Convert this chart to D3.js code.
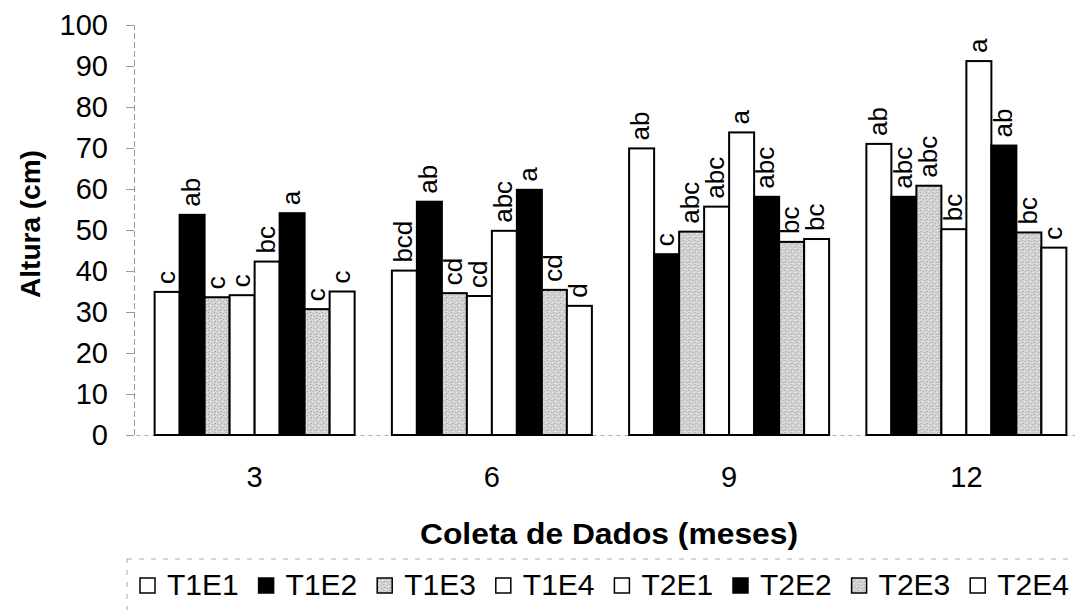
<!DOCTYPE html>
<html lang="pt">
<head>
<meta charset="UTF-8">
<script src="https://d3js.org/d3.v7.min.js"></script>
<style>
  body { margin: 0; background: #fff; }
  svg text { font-family: "Liberation Sans", Arial, sans-serif; fill: #000; }
</style>
</head>
<body>
<div id="grafico"></div>
<script>
// dados
const meses = ["3", "6", "9", "12"];
const tratamentos = ["T1E1", "T1E2", "T1E3", "T1E4", "T2E1", "T2E2", "T2E3", "T2E4"];
const T1E1 = [34.9, 40.1, 69.9, 71.0];
const T1E2 = [53.7, 56.9, 44.1, 58.1];
const T1E3 = [33.6, 34.6, 49.6, 60.8];
const T1E4 = [34.1, 33.9, 55.7, 50.2];
const T2E1 = [42.3, 49.8, 73.8, 91.2];
const T2E2 = [54.1, 59.8, 58.1, 70.6];
const T2E3 = [30.7, 35.4, 47.1, 49.4];
const T2E4 = [35.0, 31.5, 47.8, 45.7];
const letrasT1E1 = ["c", "bcd", "ab", "ab"];
const letrasT1E2 = ["ab", "ab", "c", "abc"];
const letrasT1E3 = ["c", "cd", "abc", "abc"];
const letrasT1E4 = ["c", "cd", "abc", "bc"];
const letrasT2E1 = ["bc", "abc", "a", "a"];
const letrasT2E2 = ["a", "a", "abc", "ab"];
const letrasT2E3 = ["c", "cd", "bc", "bc"];
const letrasT2E4 = ["c", "d", "bc", "c"];
const yTicks = [0, 10, 20, 30, 40, 50, 60, 70, 80, 90, 100];

const valores = [T1E1, T1E2, T1E3, T1E4, T2E1, T2E2, T2E3, T2E4];
const letras = [letrasT1E1, letrasT1E2, letrasT1E3, letrasT1E4, letrasT2E1, letrasT2E2, letrasT2E3, letrasT2E4];
const preenchimento = ["#fff", "#000", "url(#pontilhado)", "#fff", "#fff", "#000", "url(#pontilhado)", "#fff"];

const largura = 1075, altura = 610;
const svg = d3.select("#grafico").append("svg")
  .attr("width", largura).attr("height", altura);

// textura pontilhada cinza
const defs = svg.append("defs");
const pat = defs.append("pattern").attr("id", "pontilhado")
  .attr("patternUnits", "userSpaceOnUse").attr("width", 6).attr("height", 6);
pat.append("rect").attr("width", 6).attr("height", 6).attr("fill", "#d4d4d4");
[[0,0,"#a0a0a0"],[3,1,"#b0b0b0"],[1,3,"#989898"],[4,4,"#aaaaaa"],[5,2,"#ededed"],[2,5,"#eeeeee"],[0,4,"#bcbcbc"]]
  .forEach(p => pat.append("rect").attr("x", p[0]).attr("y", p[1]).attr("width", 1).attr("height", 1).attr("fill", p[2]));

const x0 = d3.scaleBand().domain(meses).range([136, 1085]).padding(0);
const largGrupo = 200;
const x1 = d3.scaleBand().domain(tratamentos)
  .range([(x0.bandwidth() - largGrupo) / 2, (x0.bandwidth() + largGrupo) / 2]);
const y = d3.scaleLinear().domain([0, 100]).range([435, 25]);

// eixo y
const eixoY = svg.append("g").attr("transform", "translate(134,0)")
  .call(d3.axisLeft(y).tickValues(yTicks).tickSize(8).tickPadding(18));
eixoY.select(".domain").attr("stroke", "#999").attr("stroke-dasharray", "6,3");
eixoY.selectAll(".tick line").attr("stroke", "#999");
eixoY.selectAll(".tick text").style("font-size", "29px");

// eixo x
const eixoX = svg.append("g").attr("transform", "translate(0,435)")
  .call(d3.axisBottom(x0).tickSize(0).tickPadding(31));
eixoX.select(".domain").attr("stroke", "#aaa").attr("stroke-dasharray", "4,4");
eixoX.selectAll(".tick text").style("font-size", "29px");

// barras
const grupos = svg.append("g").selectAll("g").data(meses).join("g")
  .attr("transform", d => `translate(${x0(d)},0)`);

grupos.selectAll("rect")
  .data((m, i) => tratamentos.map((t, s) => ({ t, s, v: valores[s][i] })))
  .join("rect")
  .attr("x", d => x1(d.t))
  .attr("y", d => y(d.v))
  .attr("width", x1.bandwidth())
  .attr("height", d => y(0) - y(d.v))
  .attr("fill", d => preenchimento[d.s])
  .attr("stroke", "#000")
  .attr("stroke-width", 2);

grupos.selectAll("text.letra")
  .data((m, i) => tratamentos.map((t, s) => ({ t, s, v: valores[s][i], l: letras[s][i] })))
  .join("text")
  .attr("class", "letra")
  .attr("transform", d => `translate(${x1(d.t) + x1.bandwidth() / 2},${y(d.v) - 8}) rotate(-90)`)
  .attr("dy", "0.3em")
  .style("font-size", "26px")
  .text(d => d.l);

// titulos
svg.append("text")
  .attr("transform", "translate(40,224) rotate(-90)")
  .attr("text-anchor", "middle")
  .style("font-size", "28px").style("font-weight", "bold")
  .text("Altura (cm)");

svg.append("text")
  .attr("x", 420).attr("y", 544)
  .attr("textLength", 378).attr("lengthAdjust", "spacingAndGlyphs")
  .style("font-size", "29px").style("font-weight", "bold")
  .text("Coleta de Dados (meses)");

// legenda
svg.append("rect")
  .attr("x", 127).attr("y", 559).attr("width", 1000).attr("height", 100)
  .attr("fill", "none").attr("stroke", "#aaa").attr("stroke-dasharray", "5,7");

const leg = svg.append("g").selectAll("g").data(tratamentos).join("g")
  .attr("transform", (d, i) => `translate(${140 + i * 118.6},578)`);
leg.append("rect")
  .attr("width", 15).attr("height", 15)
  .attr("fill", (d, i) => preenchimento[i])
  .attr("stroke", "#000").attr("stroke-width", 1.5);
leg.append("text")
  .attr("x", 27).attr("y", 17)
  .style("font-size", "30px")
  .text(d => d);
</script>
</body>
</html>
